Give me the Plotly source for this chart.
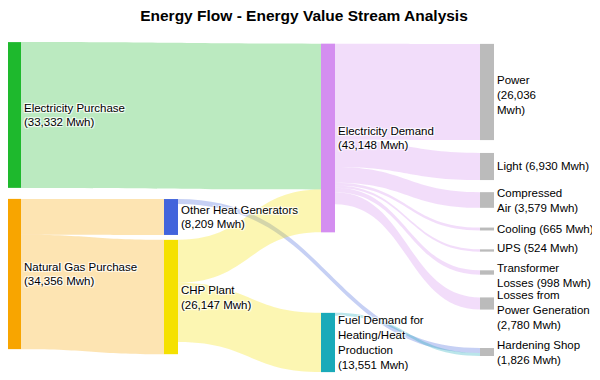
import plotly.graph_objects as go

# ---- data ----
node_names = [
    "Electricity Purchase", "Natural Gas Purchase",
    "Other Heat Generators", "CHP Plant",
    "Electricity Demand", "Fuel Demand for Heating/Heat Production",
    "Power", "Light", "Compressed Air", "Cooling", "UPS",
    "Transformer Losses", "Losses from Power Generation", "Hardening Shop",
]
node_labels = [
    "Electricity Purchase<br>(33,332 Mwh)",
    "Natural Gas Purchase<br>(34,356 Mwh)",
    "Other Heat Generators<br>(8,209 Mwh)",
    "CHP Plant<br>(26,147 Mwh)",
    "Electricity Demand<br>(43,148 Mwh)",
    "Fuel Demand for<br>Heating/Heat<br>Production<br>(13,551 Mwh)",
    "Power<br>(26,036<br>Mwh)",
    "Light (6,930 Mwh)",
    "Compressed<br>Air (3,579 Mwh)",
    "Cooling (665 Mwh)",
    "UPS (524 Mwh)",
    "Transformer<br>Losses (998 Mwh)",
    "Losses from<br>Power Generation<br>(2,780 Mwh)",
    "Hardening Shop<br>(1,826 Mwh)",
]
link_source = ["Electricity Purchase", "Natural Gas Purchase", "Natural Gas Purchase",
               "Other Heat Generators", "CHP Plant", "CHP Plant",
               "Electricity Demand", "Electricity Demand", "Electricity Demand",
               "Electricity Demand", "Electricity Demand", "Electricity Demand",
               "Electricity Demand", "Fuel Demand for Heating/Heat Production"]
link_target = ["Electricity Demand", "Other Heat Generators", "CHP Plant",
               "Hardening Shop", "Electricity Demand", "Fuel Demand for Heating/Heat Production",
               "Power", "Light", "Compressed Air", "Cooling", "UPS",
               "Transformer Losses", "Losses from Power Generation", "Hardening Shop"]
link_value = [33332, 8209, 26147,
              1150, 9816, 13551,
              22000, 6200, 3579, 665, 524, 998, 2780, 676]

# ---- layout / style ----
# The page body has an 8px margin, so the figure is 592x372 and page px = figure px + 8.
OFF = 8
W, H = 600 - OFF, 380 - OFF
DOM_TOP, DOM_H = 42, 316          # sankey domain, page px
col_centre_px = [14, 14, 171, 171, 328, 328] + [487] * 8   # page px
node_x = [(p - OFF) / W for p in col_centre_px]
node_y = [0.231, 0.7342, 0.5538, 0.807, 0.3038, 0.9509,
          0.1582, 0.394, 0.5, 0.5918, 0.6598, 0.7294, 0.8275, 0.981]
# label centres (page px) for the right-hand column, drawn as annotations
right_label_px = [95, 166, 200.5, 229, 248, 275, 309.5, 352]
right_label_x_px = 497

base_colors = {
    "Electricity Purchase": (30, 185, 45),
    "Natural Gas Purchase": (248, 165, 0),
    "Other Heat Generators": (66, 100, 220),
    "CHP Plant": (245, 225, 0),
    "Electricity Demand": (212, 142, 240),
    "Fuel Demand for Heating/Heat Production": (26, 170, 185),
}
gray = (187, 187, 187)
FONT = "Arial, Liberation Sans, sans-serif"
FS = 11.5

idx = {n: i for i, n in enumerate(node_names)}
node_colors = ["rgb(%d,%d,%d)" % base_colors.get(n, gray) for n in node_names]
link_colors = ["rgba(%d,%d,%d,0.3)" % base_colors[s] for s in link_source]
sinks = [n for n in node_names if n not in link_source]
shown_labels = ["" if n in sinks else lab for n, lab in zip(node_names, node_labels)]

fig = go.Figure(go.Sankey(
    arrangement="fixed",
    domain=dict(x=[0, 1],
                y=[1 - (DOM_TOP + DOM_H - OFF) / H, 1 - (DOM_TOP - OFF) / H]),
    node=dict(
        label=shown_labels,
        x=node_x, y=node_y,
        color=node_colors,
        thickness=14,
        pad=20,
        line=dict(width=0),
    ),
    link=dict(
        source=[idx[s] for s in link_source],
        target=[idx[t] for t in link_target],
        value=link_value,
        color=link_colors,
    ),
    textfont=dict(family=FONT, size=FS, color="#000"),
))

for n, ypx in zip(sinks, right_label_px):
    fig.add_annotation(
        text=node_labels[idx[n]], x=(right_label_x_px - OFF - 2) / W, y=1 - (ypx - OFF) / H,
        xref="paper", yref="paper", xanchor="left", yanchor="middle",
        align="left", showarrow=False,
        font=dict(family=FONT, size=FS, color="#000"),
    )

fig.update_layout(
    width=W, height=H,
    margin=dict(l=0, r=0, t=0, b=0),
    paper_bgcolor="white",
    title=dict(text="<b>Energy Flow - Energy Value Stream Analysis</b>",
               x=0.5, xanchor="center", y=1 - (16 - OFF) / H, yanchor="middle",
               font=dict(family=FONT, size=15.5, color="#000")),
)
fig.write_html("out.html")
